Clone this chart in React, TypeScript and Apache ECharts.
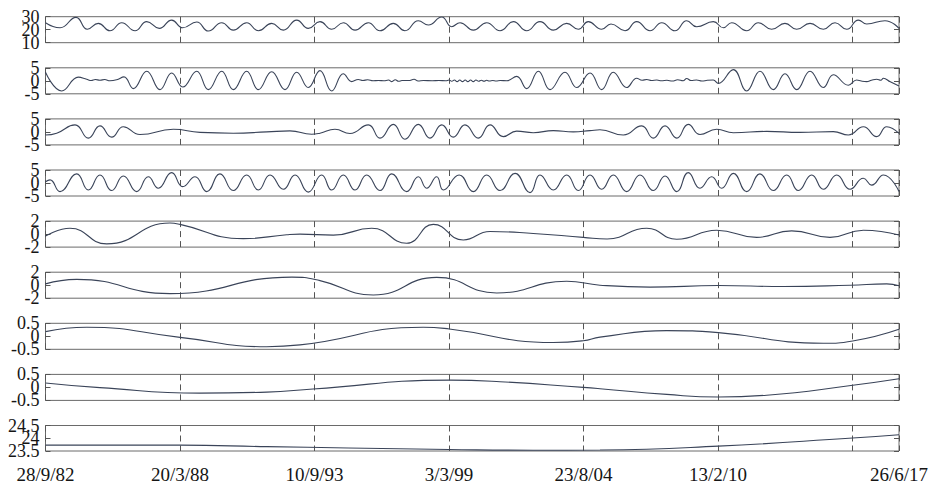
import React, { useEffect, useRef } from "react";
import * as echarts from "echarts";

// x axis: days since 28/9/1982
const xMaxDay = 12690;
const xTickDays = [0, 2000, 4000, 6000, 8000, 10000, 12690];
const xTickLabels = ["28/9/82", "20/3/88", "10/9/93", "3/3/99", "23/8/04", "13/2/10", "26/6/17"];

// y ranges per panel [min, max]
const yRanges: [number, number][] = [
  [10, 30], [-5, 5], [-5, 5], [-5, 5], [-2, 2], [-2, 2], [-0.5, 0.5], [-0.5, 0.5], [23.5, 24.5],
];

const signal: [number, number][] = [
  [0, 25.4], [216, 21.5], [453, 29.5], [622, 20.3], [785, 24.9], [959, 19.2], [1133, 25.4], [1331, 19.2],
  [1505, 26.2], [1692, 21.0], [1876, 27.4], [2040, 21.5], [2248, 25.9], [2421, 19.0], [2620, 25.4],
  [2792, 19.7], [2991, 25.4], [3164, 19.2], [3363, 24.9], [3536, 19.7], [3735, 27.4], [3907, 21.0],
  [4081, 26.2], [4255, 20.3], [4428, 25.4], [4602, 19.7], [4800, 25.4], [4973, 19.2], [5171, 24.9],
  [5345, 19.2], [5543, 26.9], [5692, 23.6], [5891, 29.8], [6039, 22.3], [6163, 25.4], [6361, 19.7],
  [6559, 25.4], [6758, 19.2], [6956, 26.2], [7154, 19.2], [7352, 26.2], [7550, 19.7], [7749, 24.9],
  [7922, 20.3], [8070, 26.2], [8269, 20.3], [8408, 24.4], [8616, 19.2], [8790, 26.2], [8988, 19.2],
  [9162, 25.4], [9359, 19.2], [9533, 26.9], [9682, 22.3], [9929, 26.2], [10077, 21.5], [10202, 25.4],
  [10425, 19.2], [10598, 25.4], [10797, 20.3], [10995, 24.9], [11169, 20.3], [11367, 24.9], [11565, 20.3],
  [11739, 25.4], [11913, 20.3], [12086, 27.4], [12210, 24.4], [12481, 26.9], [12690, 21.0],
];

const imf1: [number, number][] = [
  [0, 3.3], [241, -3.9], [488, 1.4], [612, 0.6], [680, 0.1], [740, 0.5], [810, 0.2], [880, 0.5],
  [959, 0.0], [1058, 0.4], [1167, 1.5], [1306, -3.0], [1505, 3.7], [1702, -3.4], [1876, 3.0],
  [2040, -2.4], [2248, 3.7], [2421, -3.4], [2620, 3.7], [2792, -3.4], [2991, 3.7], [3164, -3.4],
  [3363, 3.5], [3561, -3.4], [3735, 3.3], [3907, -2.6], [4081, 3.9], [4255, -3.9], [4428, 2.7],
  [4553, -0.3], [4650, 0.5], [4720, 0.1], [4790, 0.4], [4870, 0.0], [4950, 0.1], [5030, 0.0],
  [5100, 0.3], [5150, -0.3], [5200, 0.4], [5250, -0.2], [5300, 0.1], [5400, 0.1], [5480, 0.6],
  [5540, -0.1], [5620, 0.1], [5750, 0.0], [5850, 0.1], [5950, 0.0], [6000, 0.3], [6040, -0.2],
  [6080, 0.3], [6120, -0.3], [6160, 0.3], [6200, -0.3], [6240, 0.3], [6280, -0.3], [6320, 0.3],
  [6360, -0.3], [6400, 0.3], [6440, -0.2], [6480, 0.2], [6520, -0.2], [6560, 0.2], [6600, -0.1],
  [6650, 0.1], [6700, -0.1], [6760, 0.1], [6857, 0.0], [7006, 1.7], [7154, -3.0], [7328, 3.7],
  [7501, -3.4], [7724, 3.3], [7898, -2.6], [8096, 3.0], [8269, -3.4], [8442, 3.3], [8641, -2.6],
  [8790, 1.0], [8870, 0.2], [8940, 0.5], [9010, 0.1], [9090, 0.3], [9160, 0.0], [9240, 0.2],
  [9320, -0.1], [9400, 0.4], [9480, 0.0], [9533, 0.9], [9600, 0.1], [9680, 0.3], [9760, -0.1],
  [9840, 0.2], [9929, 0.3], [10003, -1.0], [10227, 4.3], [10425, -3.9], [10623, 3.7], [10821, -3.4],
  [10995, 2.7], [11169, -3.4], [11367, 3.7], [11565, -2.6], [11714, 2.3], [11937, -1.7], [12061, 0.3],
  [12130, -0.1], [12210, -0.3], [12280, 0.2], [12358, 0.6], [12420, 0.2], [12458, 1.0], [12560, -0.4],
  [12690, -2.0],
];

const imf2: [number, number][] = [
  [0, -1.2], [166, -0.5], [439, 2.7], [637, -2.4], [810, 2.3], [984, -2.0], [1157, 2.0], [1405, -1.0],
  [1900, 1.0], [2297, -0.2], [2792, -0.5], [3289, 0.0], [3635, 0.4], [3958, -0.9], [4081, -0.5],
  [4304, 1.0], [4527, -0.6], [4800, 2.7], [4973, -2.4], [5171, 2.9], [5345, -2.8], [5543, 2.9],
  [5717, -2.4], [5891, 2.7], [6063, -2.0], [6237, 2.7], [6435, -2.4], [6609, 2.7], [6807, -1.8],
  [7006, 0.3], [7252, -0.3], [7550, 0.5], [7847, 0.0], [8096, 0.5], [8244, 0.8], [8591, -1.2],
  [8864, 2.3], [9037, -2.4], [9211, 2.3], [9385, -2.4], [9557, 2.9], [9731, -1.0], [9979, 1.0],
  [10227, -0.3], [10723, 0.2], [11218, -0.2], [11714, 0.1], [11937, -1.2], [12160, 2.0], [12358, -1.8],
  [12507, 2.0], [12690, -0.6],
];

const imf3: [number, number][] = [
  [0, 0.5], [67, 1.2], [216, -3.3], [464, 3.5], [637, -2.7], [810, 3.1], [984, -2.9], [1157, 2.7],
  [1356, -3.3], [1528, 2.4], [1677, -2.0], [1876, 4.0], [2040, -1.4], [2223, 2.4], [2397, -3.3],
  [2594, 3.5], [2792, -2.9], [2991, 3.1], [3164, -2.7], [3338, 3.1], [3536, -2.4], [3710, 3.1],
  [3907, -3.5], [4106, 3.1], [4255, -2.7], [4428, 3.1], [4602, -2.7], [4775, 3.1], [4973, -2.9],
  [5147, 3.5], [5370, -3.3], [5543, 2.4], [5667, -2.0], [5816, 2.4], [5915, -2.7], [6150, 3.1],
  [6361, -3.3], [6559, 3.1], [6758, -2.9], [6981, 3.7], [7204, -3.7], [7352, 3.1], [7550, -2.7],
  [7749, 3.1], [7922, -2.9], [8096, 3.1], [8269, -2.4], [8442, 3.1], [8641, -3.3], [8839, 3.1],
  [9037, -2.9], [9211, 2.7], [9385, -3.3], [9557, 4.0], [9731, -2.0], [9905, 2.4], [10053, -2.0],
  [10227, 3.7], [10425, -3.3], [10623, 3.5], [10821, -2.9], [11020, 3.1], [11193, -2.9], [11392, 3.1],
  [11565, -2.4], [11764, 3.1], [11962, -2.4], [12160, 1.8], [12284, -0.8], [12458, 3.1], [12690, -3.3],
];

const imf4: [number, number][] = [
  [0, -0.3], [364, 0.9], [910, -1.5], [1851, 1.7], [2000, 1.5], [2941, -0.7], [3586, -0.1], [3784, 0.0],
  [4279, -0.15], [4850, 0.9], [5370, -1.4], [5766, 1.5], [6212, -0.9], [6609, 0.4], [7252, 0.1],
  [7996, -0.5], [8350, -0.75], [8939, 0.9], [9385, -0.8], [9979, 0.6], [10574, -0.5], [11094, 0.5],
  [11664, -0.5], [12160, 0.6], [12690, -0.15],
];

const imf5: [number, number][] = [
  [0, 0.2], [464, 0.9], [1851, -1.3], [3665, 1.25], [4081, 0.7], [4874, -1.5], [5816, 1.2], [6708, -1.2],
  [7749, 0.6], [8244, 0.0], [8988, -0.3], [10003, -0.05], [10970, -0.2], [11962, 0.0], [12507, 0.2],
  [12690, -0.1],
];

const imf6: [number, number][] = [
  [0, 0.18], [612, 0.35], [2000, -0.04], [3289, -0.4], [3784, -0.33], [5617, 0.35], [6004, 0.28],
  [7550, -0.24], [7996, -0.17], [8244, -0.03], [9236, 0.22], [10003, 0.14], [11565, -0.27],
  [12002, -0.18], [12690, 0.27],
];

const imf7: [number, number][] = [
  [0, 0.17], [809, -0.01], [2297, -0.22], [3289, -0.18], [3977, -0.06], [6014, 0.28], [6758, 0.22],
  [7996, 0.0], [8244, -0.05], [9236, -0.27], [10003, -0.37], [10723, -0.3], [12002, 0.08], [12690, 0.33],
];

const residue: [number, number][] = [
  [0, 23.73], [2000, 23.73], [3289, 23.67], [4500, 23.62], [6000, 23.56], [7252, 23.53], [8244, 23.54],
  [10003, 23.69], [12002, 24.01], [12690, 24.14],
];

const panelData = [signal, imf1, imf2, imf3, imf4, imf5, imf6, imf7, residue];
const panelSmooth = [0.5, 0.45, 0.5, 0.5, 0.5, 0.5, 0.5, 0.5, 0.5];

export default function App() {
  const ref = useRef<HTMLDivElement>(null);
  useEffect(() => {
    if (!ref.current) return;
    const chart = echarts.init(ref.current, null, { renderer: "svg" });
    const font = "'Liberation Serif', 'Times New Roman', serif";
    const grids: any[] = [];
    const xAxes: any[] = [];
    const yAxes: any[] = [];
    const series: any[] = [];
    panelData.forEach((data, i) => {
      const [mn, mx] = yRanges[i];
      const mid = (mn + mx) / 2;
      const top = 16.7 + i * 51.1;
      grids.push({
        left: 45.5, right: 34, top, height: 26, show: true,
        borderColor: "#6a6a6a", borderWidth: 1, backgroundColor: "#fff",
      });
      xAxes.push({
        type: "value", gridIndex: i, min: 0, max: xMaxDay, interval: 2000,
        axisLine: { show: false }, axisTick: { show: false },
        axisLabel: {
          show: i === panelData.length - 1, fontFamily: font, fontSize: 19, color: "#151515", margin: 14,
          showMinLabel: true, showMaxLabel: true,
          formatter: (v: number) => {
            const k = xTickDays.indexOf(Math.round(v));
            return k >= 0 ? xTickLabels[k] : "";
          },
        },
        splitLine: { show: true, lineStyle: { type: [6, 4], color: "#555", width: 1 } },
      });
      const common = {
        type: "value", gridIndex: i, min: mn, max: mx, interval: (mx - mn) / 2,
        axisLine: { show: false }, splitLine: { show: false },
      };
      const labelStyle = { fontFamily: font, fontSize: 18, lineHeight: 12, color: "#151515", margin: 6 };
      // left axis: ticks + outer labels
      yAxes.push({
        ...common, position: "left",
        axisTick: { show: true, inside: true, length: 5, lineStyle: { color: "#555" } },
        axisLabel: { ...labelStyle, customValues: [mn, mx], showMinLabel: true, showMaxLabel: true },
      });
      // right axis: ticks only
      yAxes.push({
        ...common, position: "right",
        axisTick: { show: true, inside: true, length: 5, lineStyle: { color: "#555" } },
        axisLabel: { show: false },
      });
      // left axis: middle label
      yAxes.push({
        ...common, position: "left",
        axisTick: { show: false },
        axisLabel: { ...labelStyle, customValues: [mid], showMinLabel: true, showMaxLabel: true },
      });
      series.push({
        type: "line", xAxisIndex: i, yAxisIndex: i * 3, data, showSymbol: false,
        smooth: panelSmooth[i], lineStyle: { color: "#3a4459", width: 1.1 },
      });
    });
    chart.setOption({
      animation: false,
      backgroundColor: "#fff",
      grid: grids, xAxis: xAxes, yAxis: yAxes, series,
    });
    return () => chart.dispose();
  }, []);
  return <div ref={ref} style={{ position: "fixed", left: 0, top: 0, width: 933, height: 484 }} />;
}
